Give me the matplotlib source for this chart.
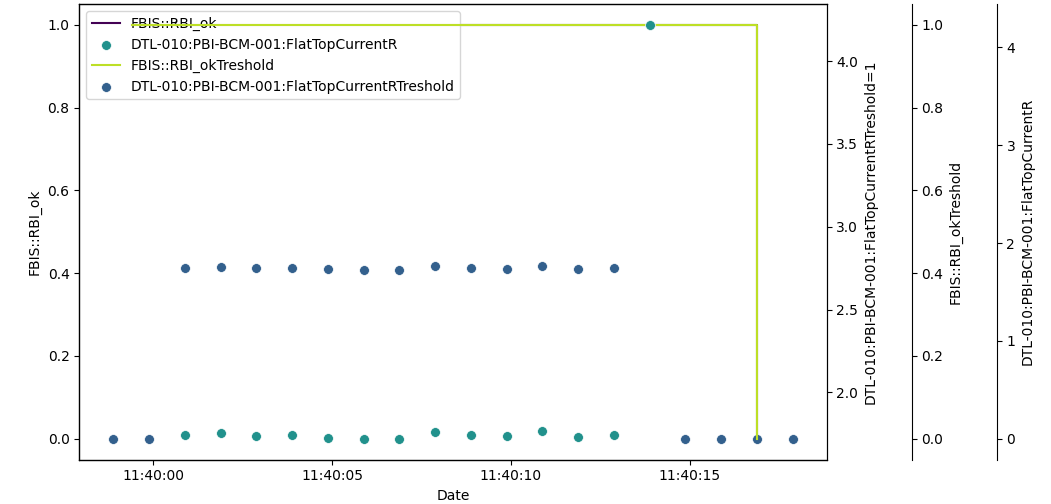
import numpy as np
import pandas as pd
import matplotlib
matplotlib.use('Agg')
import matplotlib.pyplot as plt
import matplotlib.dates as mdates

# sample timestamps (one reading per second)
times = pd.to_datetime([
    '2023-05-10 11:39:58.88', '2023-05-10 11:39:59.88', '2023-05-10 11:40:00.88',
    '2023-05-10 11:40:01.88', '2023-05-10 11:40:02.88', '2023-05-10 11:40:03.88',
    '2023-05-10 11:40:04.88', '2023-05-10 11:40:05.88', '2023-05-10 11:40:06.88',
    '2023-05-10 11:40:07.88', '2023-05-10 11:40:08.88', '2023-05-10 11:40:09.88',
    '2023-05-10 11:40:10.88', '2023-05-10 11:40:11.88', '2023-05-10 11:40:12.88',
    '2023-05-10 11:40:13.88', '2023-05-10 11:40:14.88', '2023-05-10 11:40:15.88',
    '2023-05-10 11:40:16.88', '2023-05-10 11:40:17.88',
])

# FlatTopCurrentR (NaN = no reading)
current_r = [np.nan, np.nan, 0.035, 0.059, 0.025, 0.035, 0.011, 0.001, 0.0, 0.066,
             0.035, 0.025, 0.076, 0.014, 0.035, 4.23, np.nan, np.nan, np.nan, np.nan]
# FlatTopCurrentRTreshold
current_r_thr = [1.72, 1.72, 2.752, 2.758, 2.752, 2.752, 2.746, 2.740, 2.740, 2.764,
                 2.752, 2.746, 2.764, 2.746, 2.752, 4.22, 1.72, 1.72, 1.72, 1.72]

# FBIS::RBI_ok and its threshold (step signal)
rbi_times = pd.to_datetime(['2023-05-10 11:39:59.40', '2023-05-10 11:40:16.88',
                            '2023-05-10 11:40:16.88'])
rbi_ok = [1, 1, 0]
rbi_ok_thr = [1, 1, 0]

c_purple = '#440154'
c_teal = '#21918c'
c_lime = '#bddf26'
c_blue = '#33608d'

fig = plt.figure(figsize=(10.51, 5.04), dpi=100)
ax = fig.add_axes([79.3 / 1051, 1 - 459.5 / 504, 747.4 / 1051, 455.5 / 504])

l_ok, = ax.plot(rbi_times, rbi_ok, color=c_purple, lw=1.5, label='FBIS::RBI_ok')
ax.set_ylabel('FBIS::RBI_ok')
ax.set_xlabel('Date')

ax_thr = ax.twinx()
s_thr = ax_thr.scatter(times, current_r_thr, s=50, color=c_blue, edgecolors='w',
                       linewidths=0.5, label='DTL-010:PBI-BCM-001:FlatTopCurrentRTreshold')
ax_thr.set_ylabel('DTL-010:PBI-BCM-001:FlatTopCurrentRTreshold=1')

ax_okt = ax.twinx()
ax_okt.spines['right'].set_position(('axes', 1.1137))
l_okt, = ax_okt.plot(rbi_times, rbi_ok_thr, color=c_lime, lw=1.5, label='FBIS::RBI_okTreshold')
ax_okt.set_ylabel('FBIS::RBI_okTreshold')

ax_cur = ax.twinx()
ax_cur.spines['right'].set_position(('axes', 1.2275))
s_cur = ax_cur.scatter(times, current_r, s=50, color=c_teal, edgecolors='w',
                       linewidths=0.5, label='DTL-010:PBI-BCM-001:FlatTopCurrentR')
ax_cur.set_ylabel('DTL-010:PBI-BCM-001:FlatTopCurrentR')

ax.xaxis.set_major_locator(mdates.SecondLocator(bysecond=range(0, 60, 5)))
ax.xaxis.set_major_formatter(mdates.DateFormatter('%H:%M:%S'))

ax.legend(handles=[l_ok, s_cur, l_okt, s_thr], loc='upper left')

plt.savefig('out.png', dpi=100)
plt.close()
